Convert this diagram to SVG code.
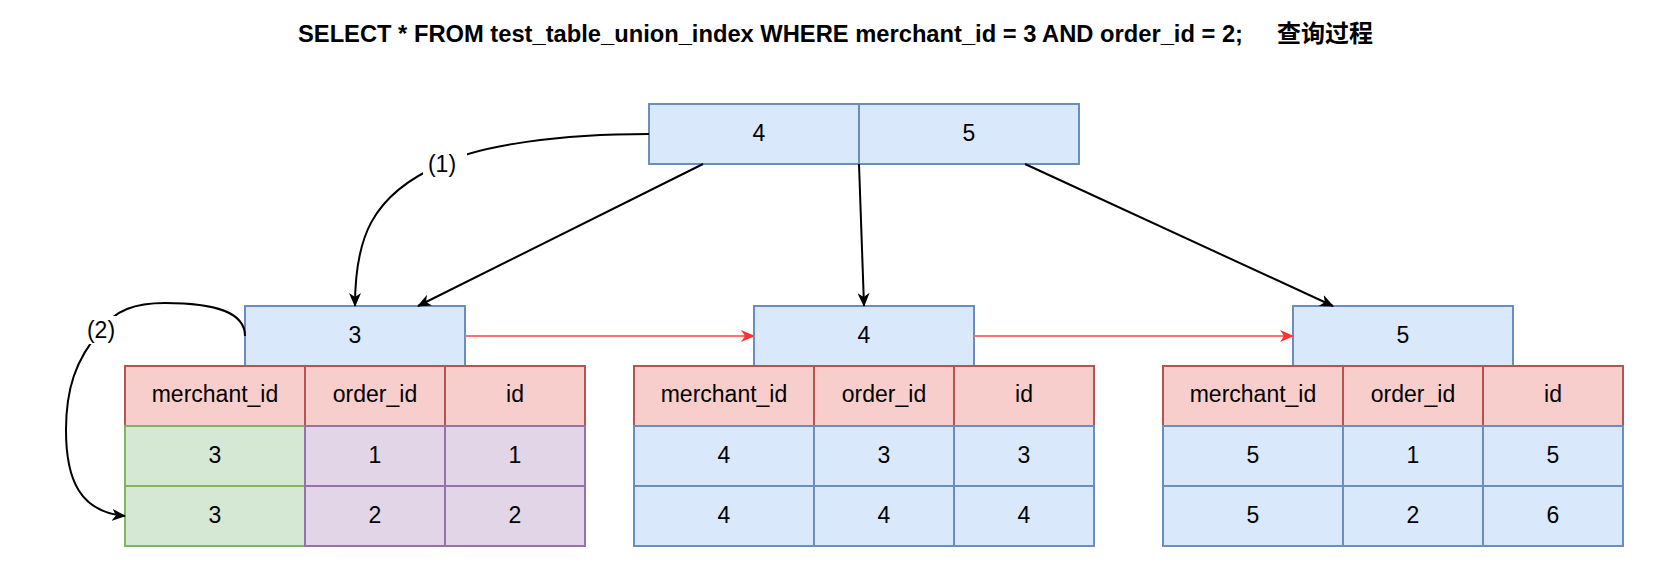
<svg xmlns="http://www.w3.org/2000/svg" width="1680" height="580" viewBox="0 0 1680 580">
<style>
text{font-family:"Liberation Sans",Arial,"Noto Sans CJK SC",sans-serif;fill:#000;}
.t{font-size:23px;text-anchor:middle;}
.title{font-size:23px;font-weight:bold;}
.blue{fill:#dae8fc;stroke:#6c8ebf;stroke-width:2;}
.red{fill:#f8cecc;stroke:#b85450;stroke-width:2;}
.green{fill:#d5e8d4;stroke:#82b366;stroke-width:2;}
.purple{fill:#e1d5e7;stroke:#9673a6;stroke-width:2;}
.conn{fill:none;stroke:#000;stroke-width:2;}
.rconn{fill:none;stroke:#ff7070;stroke-width:2;}
</style>
<defs>
<marker id="ab" viewBox="0 0 14 12" refX="13" refY="6" markerWidth="14" markerHeight="12" markerUnits="userSpaceOnUse" orient="auto">
<path d="M0,0 L14,6 L0,12 L4,6 Z" fill="#000"/>
</marker>
<marker id="ar" viewBox="0 0 14 12" refX="13" refY="6" markerWidth="14" markerHeight="12" markerUnits="userSpaceOnUse" orient="auto">
<path d="M0,0 L14,6 L0,12 L4,6 Z" fill="#ff3333"/>
</marker>
</defs>
<rect width="1680" height="580" fill="#fff"/>

<g id="title">
<text class="title" x="298" y="42" textLength="945" lengthAdjust="spacingAndGlyphs">SELECT * FROM test_table_union_index WHERE merchant_id = 3 AND order_id = 2;</text>
<text class="title" x="1277" y="42" style="font-size:24px">查询过程</text>
</g>

<g id="root">
<rect class="blue" x="649" y="104" width="220" height="60"/>
<rect class="blue" x="859" y="104" width="220" height="60"/>
<text class="t" x="759" y="141">4</text>
<text class="t" x="969" y="141">5</text>
</g>

<g id="leaf1">
<rect class="blue" x="245" y="306" width="220" height="60"/>
<text class="t" x="355" y="343">3</text>
<rect class="red" x="125" y="366" width="180" height="60"/>
<rect class="red" x="305" y="366" width="140" height="60"/>
<rect class="red" x="445" y="366" width="140" height="60"/>
<rect class="green" x="125" y="426" width="180" height="60"/>
<rect class="purple" x="305" y="426" width="140" height="60"/>
<rect class="purple" x="445" y="426" width="140" height="60"/>
<rect class="green" x="125" y="486" width="180" height="60"/>
<rect class="purple" x="305" y="486" width="140" height="60"/>
<rect class="purple" x="445" y="486" width="140" height="60"/>
<text class="t" x="215" y="402">merchant_id</text>
<text class="t" x="375" y="402">order_id</text>
<text class="t" x="515" y="402">id</text>
<text class="t" x="215" y="463">3</text>
<text class="t" x="375" y="463">1</text>
<text class="t" x="515" y="463">1</text>
<text class="t" x="215" y="523">3</text>
<text class="t" x="375" y="523">2</text>
<text class="t" x="515" y="523">2</text>
</g>

<g id="leaf2">
<rect class="blue" x="754" y="306" width="220" height="60"/>
<text class="t" x="864" y="343">4</text>
<rect class="red" x="634" y="366" width="180" height="60"/>
<rect class="red" x="814" y="366" width="140" height="60"/>
<rect class="red" x="954" y="366" width="140" height="60"/>
<rect class="blue" x="634" y="426" width="180" height="60"/>
<rect class="blue" x="814" y="426" width="140" height="60"/>
<rect class="blue" x="954" y="426" width="140" height="60"/>
<rect class="blue" x="634" y="486" width="180" height="60"/>
<rect class="blue" x="814" y="486" width="140" height="60"/>
<rect class="blue" x="954" y="486" width="140" height="60"/>
<text class="t" x="724" y="402">merchant_id</text>
<text class="t" x="884" y="402">order_id</text>
<text class="t" x="1024" y="402">id</text>
<text class="t" x="724" y="463">4</text>
<text class="t" x="884" y="463">3</text>
<text class="t" x="1024" y="463">3</text>
<text class="t" x="724" y="523">4</text>
<text class="t" x="884" y="523">4</text>
<text class="t" x="1024" y="523">4</text>
</g>

<g id="leaf3">
<rect class="blue" x="1293" y="306" width="220" height="60"/>
<text class="t" x="1403" y="343">5</text>
<rect class="red" x="1163" y="366" width="180" height="60"/>
<rect class="red" x="1343" y="366" width="140" height="60"/>
<rect class="red" x="1483" y="366" width="140" height="60"/>
<rect class="blue" x="1163" y="426" width="180" height="60"/>
<rect class="blue" x="1343" y="426" width="140" height="60"/>
<rect class="blue" x="1483" y="426" width="140" height="60"/>
<rect class="blue" x="1163" y="486" width="180" height="60"/>
<rect class="blue" x="1343" y="486" width="140" height="60"/>
<rect class="blue" x="1483" y="486" width="140" height="60"/>
<text class="t" x="1253" y="402">merchant_id</text>
<text class="t" x="1413" y="402">order_id</text>
<text class="t" x="1553" y="402">id</text>
<text class="t" x="1253" y="463">5</text>
<text class="t" x="1413" y="463">1</text>
<text class="t" x="1553" y="463">5</text>
<text class="t" x="1253" y="523">5</text>
<text class="t" x="1413" y="523">2</text>
<text class="t" x="1553" y="523">6</text>
</g>

<g id="connectors">
<path class="conn" d="M703,164 L418,306" marker-end="url(#ab)"/>
<path class="conn" d="M859,164 L864,306" marker-end="url(#ab)"/>
<path class="conn" d="M1025,164 L1333,306" marker-end="url(#ab)"/>
<path class="rconn" d="M465,336 L754,336" marker-end="url(#ar)"/>
<path class="rconn" d="M974,336 L1293,336" marker-end="url(#ar)"/>
<path class="conn" d="M649,134 C560,134 480,145 442,164 C370,195 355,240 355,306" marker-end="url(#ab)"/>
<rect x="423" y="151" width="44" height="28" fill="#fff"/>
<text class="t" x="442" y="172">(1)</text>
<path class="conn" d="M245,336 C245,312 215,303 165,303 C135,303 115,310 101,330 C75,360 66,390 66,430 C66,480 80,512 125,516" marker-end="url(#ab)"/>
<rect x="83" y="316" width="38" height="28" fill="#fff"/>
<text class="t" x="101" y="338">(2)</text>
</g>
</svg>
